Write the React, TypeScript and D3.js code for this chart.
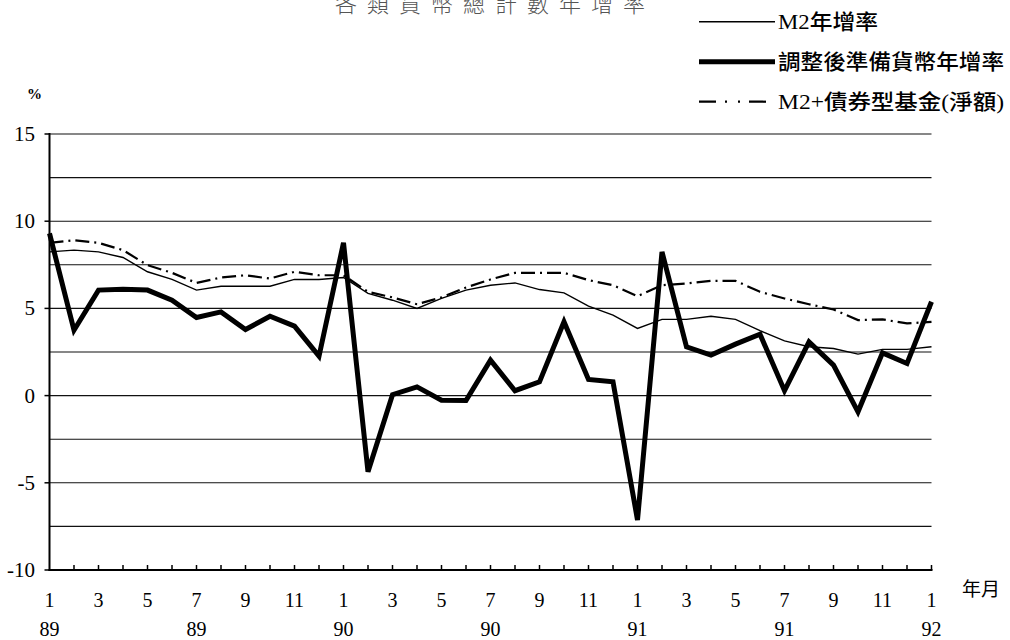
import React from 'react'
import * as d3 from 'd3'

// months from 89/1 to 92/1 (37 monthly points)
const monthIdx = d3.range(37)
const monthTicks = ['1', '3', '5', '7', '9', '11', '1', '3', '5', '7', '9', '11', '1', '3', '5', '7', '9', '11', '1']
const yearTicks = [
  { i: 0, label: '89' }, { i: 6, label: '89' }, { i: 12, label: '90' }, { i: 18, label: '90' },
  { i: 24, label: '91' }, { i: 30, label: '91' }, { i: 36, label: '92' },
]
const yTicks = [15, 10, 5, 0, -5, -10]
const gridValues = [15, 12.5, 10, 7.5, 5, 2.5, 0, -2.5, -5, -7.5]

// M2年增率
const m2 = [8.24, 8.34, 8.24, 7.92, 7.1, 6.66, 6.05, 6.27, 6.27, 6.27, 6.66, 6.66, 6.77,
  5.86, 5.47, 5.0, 5.57, 6.05, 6.33, 6.46, 6.08, 5.89, 5.13, 4.61, 3.85,
  4.37, 4.37, 4.55, 4.37, 3.72, 3.14, 2.8, 2.7, 2.38, 2.65, 2.65, 2.8]
// 調整後準備貨幣年增率
const reserve = [9.3, 3.75, 6.05, 6.1, 6.05, 5.47, 4.48, 4.8, 3.79, 4.55, 3.98, 2.26, 8.76,
  -4.37, 0.05, 0.5, -0.26, -0.28, 2.03, 0.28, 0.79, 4.23, 0.93, 0.79, -7.13,
  8.24, 2.8, 2.32, 2.95, 3.52, 0.28, 3.08, 1.75, -0.93, 2.45, 1.84, 5.38]
// M2+債券型基金(淨額)
const m2Bond = [8.76, 8.91, 8.76, 8.34, 7.48, 7.04, 6.46, 6.77, 6.9, 6.71, 7.1, 6.9, 6.9,
  5.95, 5.63, 5.24, 5.63, 6.2, 6.66, 7.04, 7.04, 7.04, 6.62, 6.33, 5.7,
  6.33, 6.43, 6.58, 6.58, 5.95, 5.57, 5.24, 4.94, 4.33, 4.37, 4.14, 4.23]

const legendItems = [
  { label: 'M2年增率', width: 1.4, dash: 'none', len: 100 },
  { label: '調整後準備貨幣年增率', width: 5, dash: 'none', len: 226 },
  { label: 'M2+債券型基金(淨額)', width: 2.2, dash: '17,9,2,11,2,9', len: 226 },
]

const serif = '"Liberation Serif", "Times New Roman", "Noto Sans CJK TC", serif'
const cjk = '"Liberation Serif", "Noto Sans CJK TC", sans-serif'

export default function App() {
  const x = d3.scaleLinear().domain([0, 36]).range([49.5, 931.5])
  const y = d3.scaleLinear().domain([-10, 15]).range([570, 134])

  const line = d3.line<number>()
    .x((d, i) => x(monthIdx[i]))
    .y(d => y(d))

  const left = x(0)
  const right = x(36)

  return (
    <svg width={1010} height={640}
      style={{ position: 'absolute', left: 0, top: 0, background: '#fff' }}>
      {/* title, cut at the top edge as in the scan */}
      <text x={495} y={12} textAnchor="middle" fontFamily={cjk} fontSize={22}
        fontWeight={300} letterSpacing={10} fill="#555">各類貨幣總計數年增率</text>

      {/* legend */}
      {legendItems.map((d, k) => {
        const ly = 21.7 + k * 40
        return (
          <g key={k}>
            <line x1={699} x2={775} y1={ly} y2={ly} stroke="#000"
              strokeWidth={d.width} strokeDasharray={d.dash} />
            <text x={778} y={ly + 7.5} fontFamily={cjk} fontSize={21} fontWeight={500}
              textLength={d.len} lengthAdjust="spacingAndGlyphs" fill="#000">{d.label}</text>
          </g>
        )
      })}

      <text x={27} y={99} fontFamily={serif} fontSize={15} fontWeight="bold" fill="#000">%</text>

      {/* gridlines */}
      {gridValues.map(v => (
        <line key={v} x1={left} x2={right} y1={y(v)} y2={y(v)} stroke="#111" strokeWidth={1.1} />
      ))}

      {/* y axis */}
      <line x1={left} x2={left} y1={y(15) - 1} y2={y(-10) + 1} stroke="#000" strokeWidth={2} />
      {yTicks.map(v => (
        <g key={v}>
          <line x1={left - 5} x2={left} y1={y(v)} y2={y(v)} stroke="#000" strokeWidth={1.5} />
          <text x={35} y={y(v) + 7} textAnchor="end" fontFamily={serif} fontSize={21}
            fill="#000">{v}</text>
        </g>
      ))}

      {/* x axis */}
      <line x1={left - 1} x2={right + 1} y1={y(-10)} y2={y(-10)} stroke="#000" strokeWidth={2} />
      {monthIdx.slice(1).map(i => (
        <line key={i} x1={x(i)} x2={x(i)} y1={y(-10) - 5} y2={y(-10)} stroke="#000" strokeWidth={1.5} />
      ))}
      {monthTicks.map((t, k) => (
        <text key={k} x={x(k * 2)} y={607} textAnchor="middle" fontFamily={serif} fontSize={20}
          fill="#000">{t}</text>
      ))}
      {yearTicks.map((t, k) => (
        <text key={k} x={x(t.i)} y={636} textAnchor="middle" fontFamily={serif} fontSize={20}
          fill="#000">{t.label}</text>
      ))}
      <text x={962} y={596} fontFamily={cjk} fontSize={19} fill="#000">年月</text>

      {/* series */}
      <path d={line(m2) || ''} fill="none" stroke="#000" strokeWidth={1.4} />
      <path d={line(m2Bond) || ''} fill="none" stroke="#000" strokeWidth={2.2}
        strokeDasharray="14,5,2,5" />
      <path d={line(reserve) || ''} fill="none" stroke="#000" strokeWidth={5}
        strokeLinejoin="miter" strokeMiterlimit={3} />
    </svg>
  )
}
